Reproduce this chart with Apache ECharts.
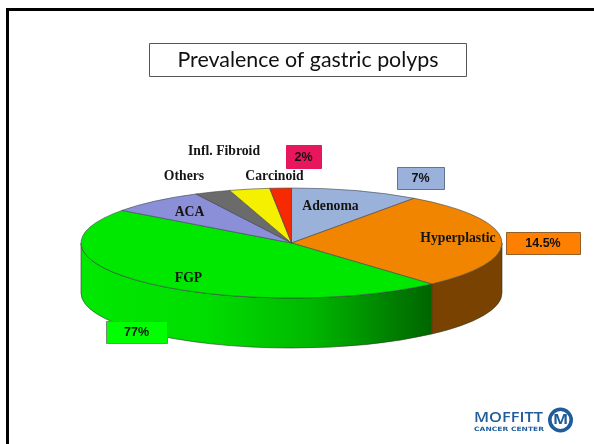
<!DOCTYPE html>
<html>
<head>
<meta charset="utf-8">
<title>Prevalence of gastric polyps</title>
<style>
  html, body { margin: 0; padding: 0; background: #fff; }
  #chart { width: 594px; height: 444px; }
</style>
<script src="https://cdn.jsdelivr.net/npm/echarts@6/dist/echarts.min.js"></script>
</head>
<body>
<div id="chart"></div>
<script>
// slices clockwise from 12 o'clock, shares
const categories = ['Adenoma', 'Hyperplastic', 'FGP', 'ACA', 'Others', 'Carcinoid', 'Infl. Fibroid'];
const sliceShares = [9.9, 28.5, 46.7, 7.4, 2.75, 3.1, 1.65];
// the percentages printed on the slide's tags
const tagTexts = ['7%', '14.5%', '77%', '2%'];
const titleText = 'Prevalence of gastric polyps';

const topColors = ['#9ab1d9', '#f28500', '#00e800', '#8b8fd8', '#6b6b6b', '#f5f000', '#f52a00'];
const labelPos = [[330.5, 206], [458, 238], [188.5, 278], [189.5, 212], [184, 176], [274.5, 176], [224, 151]];
const tagBoxes = [
  { x: 397, y: 167, w: 47, h: 22, fill: '#9ab1dc', line: '#5f7396' },
  { x: 506, y: 232, w: 74, h: 22, fill: '#ff7f00', line: '#94602a' },
  { x: 106, y: 321, w: 61, h: 22, fill: '#00ff00', line: '#6f8f6f' },
  { x: 286, y: 145, w: 35, h: 23, fill: '#e8175d', line: '#e8175d' },
];

const cx = 291.5, cy = 243, rx = 210.5, ry = 55, depth = 50;
const total = sliceShares.reduce((a, b) => a + b, 0);
const edges = [0];
sliceShares.forEach((v) => edges.push(edges[edges.length - 1] + v / total * 360));

const rimX = (deg) => cx + rx * Math.sin(deg * Math.PI / 180);
const rimY = (deg) => cy - ry * Math.cos(deg * Math.PI / 180);

const wallFill = (name) => {
  if (name === 'Hyperplastic') return '#7a4200';
  return new echarts.graphic.LinearGradient(81, 0, 433, 0, [
    { offset: 0, color: '#00e800' },
    { offset: 0.35, color: '#00de00' },
    { offset: 0.65, color: '#00b800' },
    { offset: 1, color: '#006400' },
  ], true);
};

function renderWall(params, api) {
  const a = Math.max(edges[params.dataIndex], 90);
  const b = Math.min(edges[params.dataIndex + 1], 270);
  if (b <= a) return null;
  const x1 = rimX(a), y1 = rimY(a), x2 = rimX(b), y2 = rimY(b);
  return {
    type: 'path',
    shape: {
      pathData: `M${x1} ${y1}A${rx} ${ry} 0 0 1 ${x2} ${y2}L${x2} ${y2 + depth}`
        + `A${rx} ${ry} 0 0 0 ${x1} ${y1 + depth}Z`,
    },
    style: { fill: wallFill(categories[params.dataIndex]), stroke: '#2c3a24', lineWidth: 0.6 },
  };
}

function renderTop(params, api) {
  const i = params.dataIndex;
  const a = edges[i], b = a + api.value(0) / total * 360;
  const big = b - a > 180 ? 1 : 0;
  return {
    type: 'group',
    children: [
      {
        type: 'path',
        shape: {
          pathData: `M${cx} ${cy}L${rimX(a)} ${rimY(a)}A${rx} ${ry} 0 ${big} 1 ${rimX(b)} ${rimY(b)}Z`,
        },
        style: { fill: topColors[i], stroke: '#3d4450', lineWidth: 0.6 },
      },
      {
        type: 'text',
        z2: 10,
        style: {
          text: categories[i],
          x: labelPos[i][0],
          y: labelPos[i][1],
          align: 'center',
          verticalAlign: 'middle',
          font: 'bold 13.7px "Liberation Serif"',
          fill: '#141414',
        },
      },
    ],
  };
}

// tags sit above the series, z has to go on the leaf elements
const tagGraphics = tagBoxes.map((b, i) => ({
  type: 'group',
  children: [
    { type: 'rect', z: 20, shape: { x: b.x + 0.5, y: b.y + 0.5, width: b.w, height: b.h }, style: { fill: b.fill, stroke: b.line, lineWidth: 1 } },
    {
      type: 'text',
      z: 21,
      style: {
        text: tagTexts[i], x: b.x + b.w / 2, y: b.y + b.h / 2 + 1,
        align: 'center', verticalAlign: 'middle',
        font: 'bold 12.5px "Liberation Sans"', fill: '#111',
      },
    },
  ],
}));

const logoBlue = '#1f5c99';
const frameAndLogo = [
  { type: 'rect', shape: { x: 6, y: 8, width: 588, height: 3 }, style: { fill: '#000' } },
  { type: 'rect', shape: { x: 6, y: 8, width: 3, height: 436 }, style: { fill: '#000' } },
  { type: 'rect', shape: { x: 149.5, y: 43.5, width: 317, height: 33 }, style: { fill: '#fff', stroke: '#555', lineWidth: 1 } },
  {
    type: 'text',
    z: 1,
    style: { text: titleText, x: 308, y: 60, align: 'center', verticalAlign: 'middle', font: '21.4px Lato', fill: '#111' },
  },
  {
    type: 'text',
    x: 474, y: 418, scaleX: 1.17,
    style: { text: 'MOFFITT', x: 0, y: 0, verticalAlign: 'middle', font: '600 14px "Open Sans"', fill: logoBlue },
  },
  {
    type: 'text',
    x: 474, y: 429, scaleX: 1.26,
    style: { text: 'CANCER CENTER', x: 0, y: 0, verticalAlign: 'middle', font: 'bold 6px "DejaVu Sans"', fill: logoBlue },
  },
  { type: 'circle', shape: { cx: 560.5, cy: 420, r: 10.7 }, style: { fill: 'none', stroke: logoBlue, lineWidth: 3.6 } },
  {
    type: 'text',
    x: 560.5, y: 420, scaleX: 1.15,
    style: { text: 'M', x: 0, y: 0, align: 'center', verticalAlign: 'middle', font: 'bold 14px "Open Sans"', fill: logoBlue },
  },
];

const chart = echarts.init(document.getElementById('chart'));
const seriesData = categories.map((name, i) => ({ name, value: [sliceShares[i]] }));
chart.setOption({
  animation: false,
  backgroundColor: '#fff',
  series: [
    { type: 'custom', coordinateSystem: 'none', z: 1, silent: true, renderItem: renderWall, data: seriesData },
    { type: 'custom', coordinateSystem: 'none', z: 2, silent: true, renderItem: renderTop, data: seriesData },
  ],
  graphic: frameAndLogo.concat(tagGraphics),
});
</script>
</body>
</html>
